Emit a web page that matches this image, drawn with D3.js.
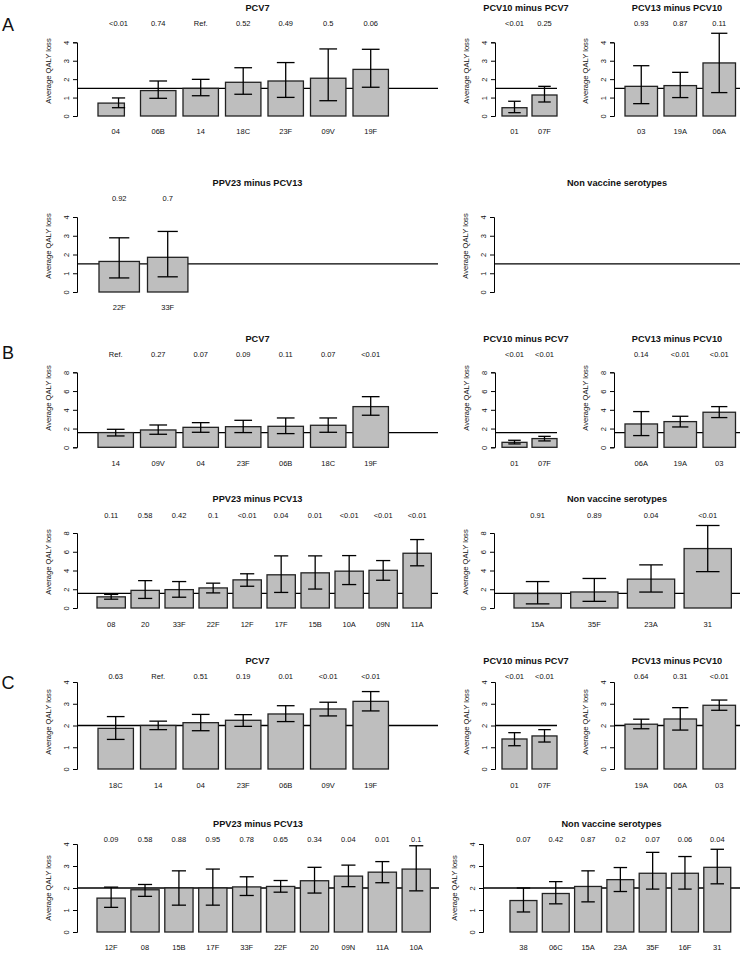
<!DOCTYPE html>
<html><head><meta charset="utf-8">
<script src="https://cdn.jsdelivr.net/npm/d3@7"></script>
<style>
html,body{margin:0;padding:0;background:#fff;}
text{font-family:"Liberation Sans",Arial,sans-serif;fill:#111;}
</style></head>
<body>
<script>
// ---------------- DATA ----------------
// Section A
const A_PCV7_cat  = ["04","06B","14","18C","23F","09V","19F"];
const A_PCV7_mean = [0.70,1.38,1.50,1.83,1.90,2.05,2.53];
const A_PCV7_lo   = [0.45,0.96,1.10,1.18,1.01,0.83,1.56];
const A_PCV7_hi   = [0.98,1.90,1.99,2.62,2.90,3.64,3.62];
const A_PCV7_p    = ["<0.01","0.74","Ref.","0.52","0.49","0.5","0.06"];

const A_PCV10_cat  = ["01","07F"];
const A_PCV10_mean = [0.45,1.14];
const A_PCV10_lo   = [0.18,0.76];
const A_PCV10_hi   = [0.80,1.61];
const A_PCV10_p    = ["<0.01","0.25"];

const A_PCV13_cat  = ["03","19A","06A"];
const A_PCV13_mean = [1.61,1.65,2.88];
const A_PCV13_lo   = [0.67,1.00,1.27];
const A_PCV13_hi   = [2.73,2.37,4.49];
const A_PCV13_p    = ["0.93","0.87","0.11"];

const A_PPV23_cat  = ["22F","33F"];
const A_PPV23_mean = [1.63,1.85];
const A_PPV23_lo   = [0.75,0.81];
const A_PPV23_hi   = [2.89,3.23];
const A_PPV23_p    = ["0.92","0.7"];

const A_NV_cat = [], A_NV_mean = [], A_NV_lo = [], A_NV_hi = [], A_NV_p = [];

// Section B
const B_PCV7_cat  = ["14","09V","04","23F","06B","18C","19F"];
const B_PCV7_mean = [1.57,1.85,2.13,2.20,2.24,2.35,4.34];
const B_PCV7_lo   = [1.21,1.39,1.60,1.57,1.46,1.60,3.42];
const B_PCV7_hi   = [1.92,2.38,2.63,2.88,3.13,3.13,5.40];
const B_PCV7_p    = ["Ref.","0.27","0.07","0.09","0.11","0.07","<0.01"];

const B_PCV10_cat  = ["01","07F"];
const B_PCV10_mean = [0.53,0.93];
const B_PCV10_lo   = [0.36,0.68];
const B_PCV10_hi   = [0.75,1.17];
const B_PCV10_p    = ["<0.01","<0.01"];

const B_PCV13_cat  = ["06A","19A","03"];
const B_PCV13_mean = [2.49,2.74,3.74];
const B_PCV13_lo   = [1.25,2.17,3.17];
const B_PCV13_hi   = [3.81,3.31,4.34];
const B_PCV13_p    = ["0.14","<0.01","<0.01"];

const B_PPV23_cat  = ["08","20","33F","22F","12F","17F","15B","10A","09N","11A"];
const B_PPV23_mean = [1.19,1.88,1.96,2.14,3.00,3.54,3.75,3.93,4.02,5.84];
const B_PPV23_lo   = [0.94,1.02,1.15,1.61,2.32,1.66,2.02,2.50,2.96,4.50];
const B_PPV23_hi   = [1.45,2.92,2.82,2.65,3.65,5.56,5.56,5.59,5.06,7.30];
const B_PPV23_p    = ["0.11","0.58","0.42","0.1","<0.01","0.04","0.01","<0.01","<0.01","<0.01"];

const B_NV_cat  = ["15A","35F","23A","31"];
const B_NV_mean = [1.55,1.71,3.08,6.34];
const B_NV_lo   = [0.44,0.71,1.70,3.88];
const B_NV_hi   = [2.82,3.15,4.60,8.80];
const B_NV_p    = ["0.91","0.89","0.04","<0.01"];

// Section C
const C_PCV7_cat  = ["18C","14","04","23F","06B","09V","19F"];
const C_PCV7_mean = [1.87,2.00,2.13,2.24,2.53,2.76,3.11];
const C_PCV7_lo   = [1.36,1.81,1.76,1.96,2.18,2.44,2.67];
const C_PCV7_hi   = [2.41,2.20,2.51,2.50,2.91,3.07,3.56];
const C_PCV7_p    = ["0.63","Ref.","0.51","0.19","0.01","<0.01","<0.01"];

const C_PCV10_cat  = ["01","07F"];
const C_PCV10_mean = [1.38,1.52];
const C_PCV10_lo   = [1.07,1.24];
const C_PCV10_hi   = [1.67,1.81];
const C_PCV10_p    = ["<0.01","<0.01"];

const C_PCV13_cat  = ["19A","06A","03"];
const C_PCV13_mean = [2.06,2.30,2.93];
const C_PCV13_lo   = [1.85,1.79,2.70];
const C_PCV13_hi   = [2.29,2.82,3.17];
const C_PCV13_p    = ["0.64","0.31","<0.01"];

const C_PPV23_cat  = ["12F","08","15B","17F","33F","22F","20","09N","11A","10A"];
const C_PPV23_mean = [1.54,1.92,2.00,2.00,2.05,2.07,2.33,2.54,2.72,2.86];
const C_PPV23_lo   = [1.12,1.62,1.22,1.22,1.66,1.81,1.77,2.06,2.24,1.87];
const C_PPV23_hi   = [2.04,2.16,2.78,2.86,2.51,2.34,2.94,3.04,3.20,3.92];
const C_PPV23_p    = ["0.09","0.58","0.88","0.95","0.78","0.65","0.34","0.04","0.01","0.1"];

const C_NV_cat  = ["38","06C","15A","23A","35F","16F","31"];
const C_NV_mean = [1.43,1.75,2.07,2.38,2.67,2.67,2.94];
const C_NV_lo   = [0.91,1.28,1.37,1.84,1.95,1.95,2.19];
const C_NV_hi   = [2.00,2.29,2.78,2.93,3.62,3.43,3.76];
const C_NV_p    = ["0.07","0.42","0.87","0.2","0.07","0.06","0.04"];

// reference lines (value of the "Ref." serotype) and y-axis ticks
const refValue = {A: 1.50, B: 1.57, C: 2.00};
const ticksA = [0,1,2,3,4];
const ticksB = [0,2,4,6,8];
const ticksC = [0,1,2,3,4];

const titles = {PCV7:"PCV7", PCV10:"PCV10 minus PCV7", PCV13:"PCV13 minus PCV10", PPV23:"PPV23 minus PCV13", NV:"Non vaccine serotypes"};
const yLabel = "Average QALY loss";

// ---------------- LAYOUT / STYLE ----------------
const W = 740, H = 953;
const svg = d3.select("body").append("svg").attr("width", W).attr("height", H);
svg.append("rect").attr("width", W).attr("height", H).attr("fill", "#fff");

// row geometry (vertical)
const rows = {
  A1:{titleY:7.5, pY:23.5, yTop:42.3, yBot:116,   labY:131, ylabY:71},
  A2:{titleY:183, pY:198.5,yTop:217,  yBot:292,   labY:307, ylabY:246},
  B1:{titleY:339, pY:354.5,yTop:372.3,yBot:447.3, labY:463, ylabY:398},
  B2:{titleY:499, pY:515,  yTop:533,  yBot:608,   labY:624, ylabY:562},
  C1:{titleY:661, pY:676,  yTop:682,  yBot:769,   labY:785, ylabY:722},
  C2:{titleY:824, pY:839,  yTop:844,  yBot:932,   labY:947, ylabY:888}
};
// panel geometry (horizontal)
const cols = {
  PCV7: {axisX:77,  right:438, first:98,  step:42.5},
  PCV10:{axisX:495, right:557, first:502, step:30},
  PCV13:{axisX:614, right:740, first:625, step:39},
  A_PPV23:{axisX:77, right:438, first:99, step:48.5},
  A_NV:{axisX:494, right:740, first:514, step:56.7},
  B_PPV23:{axisX:77, right:438, first:97, step:34},
  B_NV:{axisX:494, right:740, first:514, step:56.7},
  C_PPV23:{axisX:77, right:439, first:97, step:33.9},
  C_NV:{axisX:483, right:740, first:510, step:32.3}
};
// one bar in the original is drawn narrower, with its whisker off-centre
const barOverride = {"A|PCV7|04": {widthFrac: 0.745, whiskerFrac: 0.58}};

const data = {
  A:{PCV7:[A_PCV7_cat,A_PCV7_mean,A_PCV7_lo,A_PCV7_hi,A_PCV7_p],
     PCV10:[A_PCV10_cat,A_PCV10_mean,A_PCV10_lo,A_PCV10_hi,A_PCV10_p],
     PCV13:[A_PCV13_cat,A_PCV13_mean,A_PCV13_lo,A_PCV13_hi,A_PCV13_p],
     PPV23:[A_PPV23_cat,A_PPV23_mean,A_PPV23_lo,A_PPV23_hi,A_PPV23_p],
     NV:[A_NV_cat,A_NV_mean,A_NV_lo,A_NV_hi,A_NV_p]},
  B:{PCV7:[B_PCV7_cat,B_PCV7_mean,B_PCV7_lo,B_PCV7_hi,B_PCV7_p],
     PCV10:[B_PCV10_cat,B_PCV10_mean,B_PCV10_lo,B_PCV10_hi,B_PCV10_p],
     PCV13:[B_PCV13_cat,B_PCV13_mean,B_PCV13_lo,B_PCV13_hi,B_PCV13_p],
     PPV23:[B_PPV23_cat,B_PPV23_mean,B_PPV23_lo,B_PPV23_hi,B_PPV23_p],
     NV:[B_NV_cat,B_NV_mean,B_NV_lo,B_NV_hi,B_NV_p]},
  C:{PCV7:[C_PCV7_cat,C_PCV7_mean,C_PCV7_lo,C_PCV7_hi,C_PCV7_p],
     PCV10:[C_PCV10_cat,C_PCV10_mean,C_PCV10_lo,C_PCV10_hi,C_PCV10_p],
     PCV13:[C_PCV13_cat,C_PCV13_mean,C_PCV13_lo,C_PCV13_hi,C_PCV13_p],
     PPV23:[C_PPV23_cat,C_PPV23_mean,C_PPV23_lo,C_PPV23_hi,C_PPV23_p],
     NV:[C_NV_cat,C_NV_mean,C_NV_lo,C_NV_hi,C_NV_p]}
};
const ticksBySection = {A:ticksA, B:ticksB, C:ticksC};
const letterY = {A:25, B:353, C:683};

function drawPanel(sec, key, row, col) {
  const [cat, mean, lo, hi, pv] = data[sec][key];
  const ticks = ticksBySection[sec];
  const ymax = d3.max(ticks);
  const y = d3.scaleLinear().domain([0, ymax]).range([row.yBot, row.yTop]);
  const n = Math.max(cat.length, 1);
  const slot0 = col.first - col.step / 12;
  const x = d3.scaleBand().domain(cat).range([slot0, slot0 + n * col.step])
              .paddingInner(1/6).paddingOuter(1/12);
  const g = svg.append("g");

  // title
  g.append("text").attr("x", (col.axisX + col.right) / 2).attr("y", row.titleY)
    .attr("text-anchor", "middle").attr("dominant-baseline", "central")
    .style("font-size", "9.2px").style("font-weight", "bold").text(titles[key]);

  // reference line
  g.append("line").attr("x1", col.axisX).attr("x2", col.right)
    .attr("y1", y(refValue[sec])).attr("y2", y(refValue[sec]))
    .attr("stroke", "#000").attr("stroke-width", 1.3);

  // y axis
  const ax = g.append("g").attr("transform", `translate(${col.axisX},0)`)
    .call(d3.axisLeft(y).tickValues(ticks).tickSizeOuter(0).tickSize(4).tickFormat(d3.format("d")));
  ax.select(".domain").attr("stroke", "#000").attr("stroke-width", 1);
  ax.selectAll(".tick line").attr("stroke", "#000").attr("stroke-width", 1);
  ax.selectAll(".tick text").attr("x", null).attr("dy", "0.35em")
    .attr("text-anchor", "middle").attr("transform", "translate(-10.5,0) rotate(-90)")
    .style("font-size", "7.5px").style("font-family", '"Liberation Sans",Arial,sans-serif').attr("fill", "#111");

  // y label
  g.append("text").attr("transform", `translate(${col.axisX - 29},${row.ylabY}) rotate(-90)`)
    .attr("text-anchor", "middle").attr("dominant-baseline", "central")
    .style("font-size", "7.6px").text(yLabel);

  const items = cat.map((c, i) => {
    const o = barOverride[`${sec}|${key}|${c}`] || {widthFrac: 1, whiskerFrac: 0.5};
    return {c, m: mean[i], lo: lo[i], hi: hi[i], p: pv[i], o};
  });
  const bw = d => x.bandwidth() * d.o.widthFrac;
  const cx = d => x(d.c) + x.bandwidth() * d.o.whiskerFrac;
  const mid = d => x(d.c) + x.bandwidth() / 2;
  const cap = d => bw(d) / 4;

  // bars
  g.selectAll("rect.bar").data(items).join("rect").attr("class", "bar")
    .attr("x", d => x(d.c)).attr("width", bw)
    .attr("y", d => y(d.m)).attr("height", d => y(0) - y(d.m))
    .attr("fill", "#bebebe").attr("stroke", "#222").attr("stroke-width", 1.3);

  // error bars
  const eb = g.selectAll("g.eb").data(items).join("g").attr("class", "eb");
  eb.append("line").attr("x1", cx).attr("x2", cx).attr("y1", d => y(d.lo)).attr("y2", d => y(d.hi))
    .attr("stroke", "#000").attr("stroke-width", 1.3);
  eb.append("line").attr("x1", d => cx(d) - cap(d)).attr("x2", d => cx(d) + cap(d))
    .attr("y1", d => y(d.hi)).attr("y2", d => y(d.hi)).attr("stroke", "#000").attr("stroke-width", 1.3);
  eb.append("line").attr("x1", d => cx(d) - cap(d)).attr("x2", d => cx(d) + cap(d))
    .attr("y1", d => y(d.lo)).attr("y2", d => y(d.lo)).attr("stroke", "#000").attr("stroke-width", 1.3);

  // p-values
  g.selectAll("text.pv").data(items).join("text").attr("class", "pv")
    .attr("x", cx).attr("y", row.pY).attr("text-anchor", "middle").attr("dominant-baseline", "central")
    .style("font-size", "7.5px").text(d => d.p);
  // category labels
  g.selectAll("text.cl").data(items).join("text").attr("class", "cl")
    .attr("x", mid).attr("y", row.labY).attr("text-anchor", "middle").attr("dominant-baseline", "central")
    .style("font-size", "7.5px").text(d => d.c);
}

["A","B","C"].forEach(sec => {
  const r1 = rows[sec + "1"], r2 = rows[sec + "2"];
  drawPanel(sec, "PCV7", r1, cols.PCV7);
  drawPanel(sec, "PCV10", r1, cols.PCV10);
  drawPanel(sec, "PCV13", r1, cols.PCV13);
  drawPanel(sec, "PPV23", r2, cols[sec + "_PPV23"]);
  drawPanel(sec, "NV", r2, cols[sec + "_NV"]);
  svg.append("text").attr("x", 8).attr("y", letterY[sec]).attr("text-anchor", "middle")
    .attr("dominant-baseline", "central").style("font-size", "18px").text(sec);
});
</script>
</body></html>
